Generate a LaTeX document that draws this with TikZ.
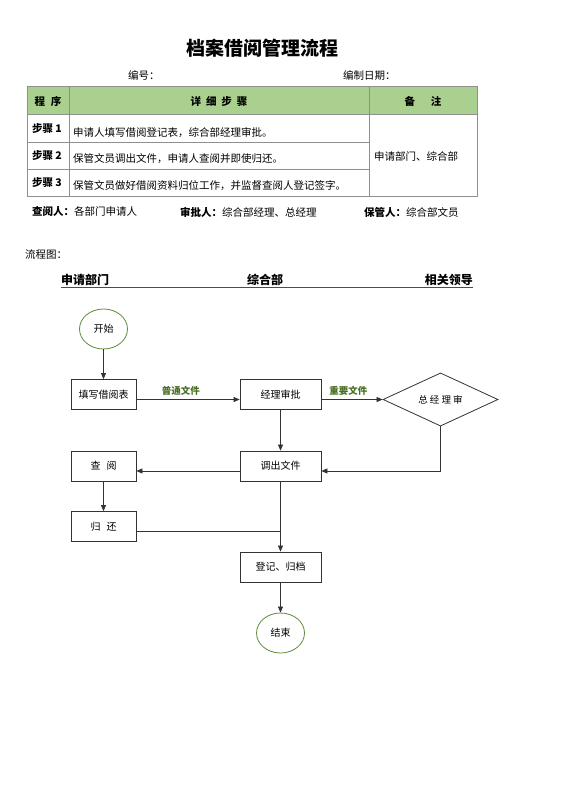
\documentclass[tikz,border=0pt]{standalone}
\usepackage{fontspec}
\setmainfont{Noto Sans CJK SC}
\usetikzlibrary{shapes.geometric,arrows.meta}
\definecolor{headgreen}{HTML}{A9D08E}
\definecolor{labelgreen}{HTML}{4A7025}
\definecolor{ovalgreen}{HTML}{5E8A3A}
\definecolor{rulegray}{HTML}{8F8F8F}
\begin{document}
\begin{tikzpicture}[x=1pt, y=-1pt,
    txt_style/.style={inner sep=0pt, font=\fontsize{10.5}{12}\selectfont},
    head_style/.style={inner sep=0pt, font=\bfseries\fontsize{10.5}{12}\selectfont},
    lane_style/.style={inner sep=0pt, font=\bfseries\fontsize{12}{14}\selectfont},
    rule_style/.style={draw=rulegray, line width=0.9pt},
    box_style/.style={rectangle, draw=black!80, line width=0.8pt, minimum width=65pt, minimum height=30pt, inner sep=1pt, font=\fontsize{10}{11}\selectfont},
    oval_style/.style={ellipse, draw=ovalgreen, line width=0.8pt, minimum width=48pt, minimum height=40pt, inner sep=0pt, font=\fontsize{10}{11}\selectfont},
    dec_style/.style={diamond, draw=black!80, line width=0.8pt, minimum width=115pt, minimum height=44pt, inner sep=0pt, font=\fontsize{9.5}{11}\selectfont},
    lbl_style/.style={inner sep=0pt, text=labelgreen, font=\bfseries\fontsize{9.5}{11}\selectfont},
    edge_style/.style={draw=black!80, line width=0.7pt}]
  \path[use as bounding box, fill=white] (0,0) rectangle (560,792);

  % heading
  \node[font=\bfseries\fontsize{19}{22}\selectfont] (title) at (262,48) {档案借阅管理流程};
  \node[txt_style, anchor=west] (number) at (128,75) {编号：};
  \node[txt_style, anchor=west] (date) at (343,75) {编制日期：};

  % table
  \fill[headgreen] (27,86) rectangle (477,114);
  \draw[rule_style] (27,86) rectangle (477,196);
  \draw[rule_style] (27,114) -- (477,114);
  \draw[rule_style] (27,142) -- (369,142) (27,169) -- (369,169);
  \draw[rule_style] (69,86) -- (69,196) (369,86) -- (369,196);
  \draw
    (48,101) node[head_style] (h1){程\hspace{6pt}序}
    (219,101) node[head_style] (h2){详\hspace{5pt}细\hspace{5pt}步\hspace{5pt}骤}
    (423,101) node[head_style] (h3){备\hspace{16pt}注}
    (47,129) node[head_style] (s1){步骤 1}
    (47,156) node[head_style] (s2){步骤 2}
    (47,183) node[head_style] (s3){步骤 3}
    (73,133) node[txt_style, anchor=west] (t1){申请人填写借阅登记表，综合部经理审批。}
    (73,159) node[txt_style, anchor=west] (t2){保管文员调出文件，申请人查阅并即使归还。}
    (73,186) node[txt_style, anchor=west] (t3){保管文员做好借阅资料归位工作，并监督查阅人登记签字。}
    (374,156) node[txt_style, anchor=west] (note){申请部门、综合部};
  \draw
    (32,212) node[txt_style, anchor=west] (reader){\textbf{查阅人：}各部门申请人}
    (180,212) node[txt_style, anchor=west] (approver){\textbf{审批人：}综合部经理、总经理}
    (364,212) node[txt_style, anchor=west] (keeper){\textbf{保管人：}综合部文员};

  % lanes
  \node[txt_style, anchor=west] (chart) at (25,255) {流程图：};
  \draw
    (61,280) node[lane_style, anchor=west] (lane1){申请部门}
    (265,280) node[lane_style] (lane2){综合部}
    (473,280) node[lane_style, anchor=east] (lane3){相关领导};
  \draw[draw=black!70, line width=0.8pt] (61,287) -- (473,287);

  % flow
  \draw
    (103.5,329) node[oval_style] (start){开始}
    (103.5,394.5) node[box_style] (form){填写借阅表}
    (280.5,394.5) node[box_style, minimum width=81pt] (mgr){经理审批}
    (440.5,399.5) node[dec_style] (gm){总 经 理 审}
    (103.5,466) node[box_style] (read){查\hspace{6pt}阅}
    (280.5,466) node[box_style, minimum width=81pt] (fetch){调出文件}
    (103.5,526.5) node[box_style] (ret){归\hspace{6pt}还}
    (280.5,567) node[box_style, minimum width=81pt] (file){登记、归档}
    (280.5,633) node[oval_style] (finish){结束};
  \begin{scope}[-{Triangle[length=6pt,width=5pt]}]
    \draw[edge_style] (start) to (form);
    \draw[edge_style] ([yshift=-5pt]form.east) to node[lbl_style, pos=0.43, above=4pt] (plain){普通文件} ([yshift=-5pt]mgr.west);
    \draw[edge_style] ([yshift=-5pt]mgr.east) to node[lbl_style, pos=0.44, above=4pt] (vital){重要文件} (gm.west);
    \draw[edge_style] (mgr) to (fetch);
    \draw[edge_style] (gm.south) |- ([yshift=-5pt]fetch.east);
    \draw[edge_style] ([yshift=-5pt]fetch.west) to ([yshift=-5pt]read.east);
    \draw[edge_style] (read) to (ret);
    \draw[edge_style] (fetch) to (file);
    \draw[edge_style] (file) to (finish);
  \end{scope}
  \draw[edge_style] ([yshift=-5pt]ret.east) -- ([yshift=-5pt]ret.east -| fetch.south);
\end{tikzpicture}
\end{document}
